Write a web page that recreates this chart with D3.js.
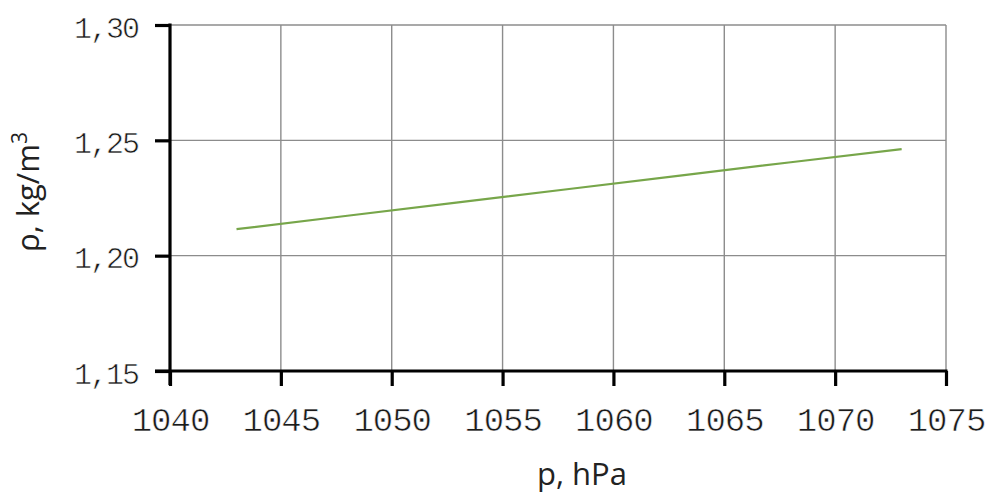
<!DOCTYPE html>
<html>
<head>
<meta charset="utf-8">
<script src="https://cdn.jsdelivr.net/npm/d3@7"></script>
<style>
  html, body { margin: 0; padding: 0; background: #fff; }
  svg { display: block; }
</style>
</head>
<body>
<svg id="chart" width="989" height="494"></svg>
<script>
// Data
const pressure = [1043, 1048, 1053, 1058, 1063, 1068, 1073];           // hPa
const density  = [1.2115, 1.2173, 1.2231, 1.2289, 1.2347, 1.2405, 1.2462]; // kg/m3
const xTicks = [1040, 1045, 1050, 1055, 1060, 1065, 1070, 1075];
const yTicks = [1.15, 1.20, 1.25, 1.30];
const xTitle = "p, hPa";
const yTitle = "ρ, kg/m";

const svg = d3.select("#chart");
const mLeft = 170, mRight = 946, mTop = 25, mBottom = 371;

const x = d3.scaleLinear().domain([1040, 1075]).range([mLeft, mRight]);
const y = d3.scaleLinear().domain([1.15, 1.30]).range([mBottom, mTop]);

// Gridlines
const grid = svg.append("g");
grid.selectAll("line.h").data(yTicks).join("line")
  .attr("x1", mLeft).attr("x2", mRight)
  .attr("y1", d => y(d)).attr("y2", d => y(d))
  .attr("stroke", "#8c8c8c").attr("stroke-width", 1.4);
grid.selectAll("line.v").data(xTicks).join("line")
  .attr("x1", d => x(d)).attr("x2", d => x(d))
  .attr("y1", mTop).attr("y2", mBottom)
  .attr("stroke", "#8c8c8c").attr("stroke-width", 1.4);

// Axes
const xAxis = d3.axisBottom(x).tickValues(xTicks).tickSize(15).tickPadding(21)
  .tickFormat(d3.format("d"));
const gx = svg.append("g").attr("transform", `translate(0,${mBottom})`).call(xAxis);
gx.select(".domain").remove();
gx.selectAll(".tick line").attr("stroke", "#000").attr("stroke-width", 3.2);
gx.selectAll(".tick text")
  .attr("font-family", "'Liberation Mono', monospace")
  .attr("font-size", 34).attr("fill", "#1a1a1a")
  .attr("stroke", "#fff").attr("stroke-width", 0.6)
  .style("letter-spacing", "-1px")
  .attr("dy", "0.71em");
svg.append("line").attr("x1", mLeft - 15).attr("x2", mRight + 1.5)
  .attr("y1", mBottom).attr("y2", mBottom)
  .attr("stroke", "#000").attr("stroke-width", 3.2);

const yAxis = d3.axisLeft(y).tickValues(yTicks).tickSize(15).tickPadding(17)
  .tickFormat(d => d3.format(".2f")(d).replace(".", ","));
const gy = svg.append("g").attr("transform", `translate(${mLeft},0)`).call(yAxis);
gy.select(".domain").remove();
gy.selectAll(".tick line").attr("stroke", "#000").attr("stroke-width", 3.2);
gy.selectAll(".tick text")
  .attr("font-family", "'Liberation Mono', monospace")
  .attr("font-size", 30).attr("fill", "#1a1a1a")
  .attr("stroke", "#fff").attr("stroke-width", 0.6)
  .attr("dy", "0.4em")
  .style("letter-spacing", "-2px");
svg.append("line").attr("x1", mLeft).attr("x2", mLeft)
  .attr("y1", mTop - 1.5).attr("y2", mBottom + 14)
  .attr("stroke", "#000").attr("stroke-width", 3.2);

// Series line
const line = d3.line().x((d, i) => x(pressure[i])).y(d => y(d));
svg.append("path").datum(density)
  .attr("d", line)
  .attr("fill", "none")
  .attr("stroke", "#77a64a")
  .attr("stroke-width", 2.2);

// Axis titles
svg.append("text")
  .attr("x", 582).attr("y", 485)
  .attr("text-anchor", "middle")
  .attr("font-family", "'Open Sans', sans-serif")
  .attr("font-size", 31).attr("fill", "#222")
  .text(xTitle);

const yt = svg.append("text")
  .attr("transform", "translate(39,192) rotate(-90)")
  .attr("text-anchor", "middle")
  .attr("font-family", "'Open Sans', sans-serif")
  .attr("font-size", 31).attr("fill", "#222");
yt.append("tspan").text(yTitle);
yt.append("tspan").attr("dy", -12).attr("font-size", 21).text("3");
</script>
</body>
</html>
